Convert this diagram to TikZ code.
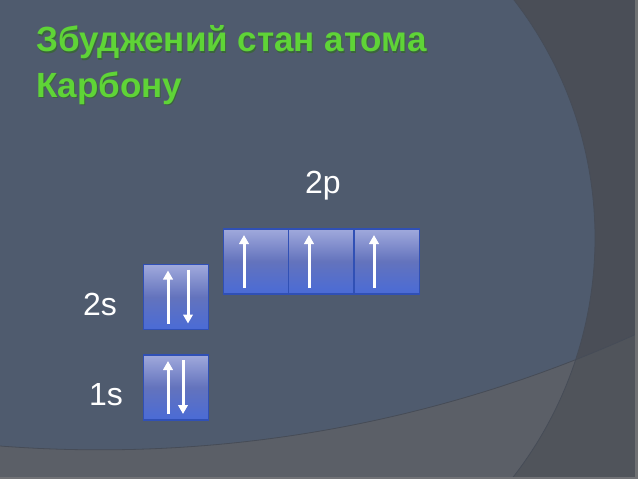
\documentclass[tikz,border=0pt]{standalone}
\usepackage{fontspec}
\setmainfont{Liberation Sans}
\usetikzlibrary{arrows.meta,calc}
\definecolor{bgmain}{HTML}{4F5B6E}
\definecolor{bgout}{HTML}{4A4E57}
\definecolor{bglow}{HTML}{5B5F67}
\definecolor{bglowout}{HTML}{50545B}
\definecolor{edge}{HTML}{464C57}
\definecolor{titlegreen}{HTML}{5FD437}
\definecolor{titleshadow}{HTML}{2F6A1E}
\definecolor{orbtop}{HTML}{A0A9DC}
\definecolor{orbmid}{HTML}{6373BD}
\definecolor{orbbot}{HTML}{4A6BD6}
\definecolor{orbline}{HTML}{3050B5}
\tikzset{
  orb/.style={draw=orbline, line width=1.2pt, top color=orbtop, bottom color=orbbot, middle color=orbmid,
    minimum width=65pt, minimum height=65pt, inner sep=0pt, outer sep=0pt},
  elec/.style={draw=white, line width=3pt, -{Triangle[width=9.5pt,length=9pt]}},
  lvl/.style={text=white, font=\fontsize{32}{36}\selectfont, anchor=base, inner sep=0pt},
  ttl/.style={text=titlegreen, font=\bfseries\fontsize{35}{42}\selectfont, anchor=base west, inner sep=0pt},
  ttlsh/.style={text=titleshadow, opacity=0.6, font=\bfseries\fontsize{35}{42}\selectfont, anchor=base west, inner sep=0pt}
}
\begin{document}
\begin{tikzpicture}[x=1pt,y=-1pt]
\useasboundingbox (0,0) rectangle (638,479);
% background
\fill[bgout] (0,0) rectangle (638,479);
\fill[bgmain] (205,238) circle[radius=390];
\begin{scope}
  \clip (638,479) -- (0,479) -- (0,446) arc[start angle=94.41, end angle=65.56, radius=1300] -- cycle;
  \fill[bglowout] (0,0) rectangle (638,479);
  \fill[bglow] (205,238) circle[radius=390];
\end{scope}
\begin{scope}
  \clip (0,0) rectangle (638,479);
  \draw[edge, line width=0.8pt] (205,238) circle[radius=390];
  \draw[edge, line width=0.8pt] (0,446) arc[start angle=94.41, end angle=65.56, radius=1300];
\end{scope}
\fill[gray!70!bgout] (635,0) rectangle (638,479);
\fill[gray!60!bglow] (0,476.5) rectangle (638,479);
% title
\node[ttlsh] (t1s) at (37,53) {Збуджений стан атома};
\node[ttlsh] (t2s) at (37,98) {Карбону};
\node[ttl] (t1) at (36,52) {Збуджений стан атома};
\node[ttl] (t2) at (36,97) {Карбону};
% orbitals
\node[orb] (p1) at (256,261.5) {};
\node[orb] (p2) at (321,261.5) {};
\node[orb] (p3) at (387,261.5) {};
\node[orb] (s2) at (176,297) {};
\node[orb] (s1) at (176,387.5) {};
% electrons
\draw[elec] ($(p1.south)+(-12,-6)$) -- ($(p1.north)+(-12,6)$);
\draw[elec] ($(p2.south)+(-12,-6)$) -- ($(p2.north)+(-12,6)$);
\draw[elec] ($(p3.south)+(-13,-6)$) -- ($(p3.north)+(-13,6)$);
\draw[elec] ($(s2.south)+(-8,-6)$) -- ($(s2.north)+(-8,6)$);
\draw[elec] ($(s2.north)+(12,5)$) -- ($(s2.south)+(12,-6)$);
\draw[elec] ($(s1.south)+(-8,-6)$) -- ($(s1.north)+(-8,6)$);
\draw[elec] ($(s1.north)+(7,5)$) -- ($(s1.south)+(7,-6)$);
% labels
\node[lvl] (l2p) at (323,193) {2p};
\node[lvl] (l2s) at (100,315) {2s};
\node[lvl] (l1s) at (106,405) {1s};
\end{tikzpicture}
\end{document}
